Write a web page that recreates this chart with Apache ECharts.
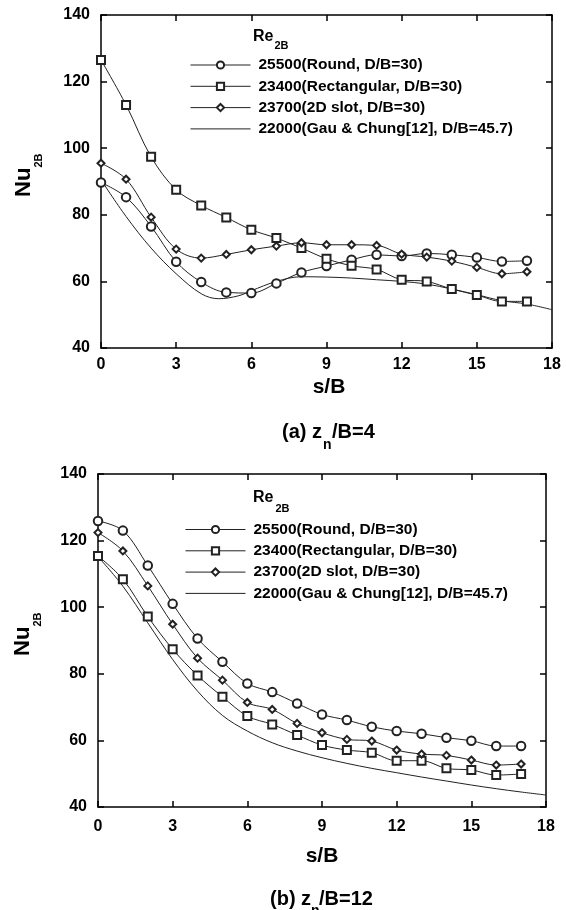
<!DOCTYPE html>
<html><head><meta charset="utf-8">
<script src="https://cdn.jsdelivr.net/npm/echarts@6/dist/echarts.min.js"></script>
<style>html,body{margin:0;padding:0;background:#fff}#c{width:566px;height:910px}</style>
</head><body><div id="c"></div>
<script>
// ---------- data ----------
const sB = [0,1,2,3,4,5,6,7,8,9,10,11,12,13,14,15,16,17];
const seriesNames = ['25500(Round, D/B=30)', '23400(Rectangular, D/B=30)', '23700(2D slot, D/B=30)', '22000(Gau & Chung[12], D/B=45.7)'];

// (a) zn/B = 4
const roundA = [89.7,85.3,76.5,65.9,59.8,56.7,56.5,59.4,62.7,64.6,66.5,68.0,67.6,68.4,68.0,67.2,66.0,66.2];
const rectA  = [126.5,113.0,97.4,87.5,82.8,79.2,75.5,73.0,70.0,66.8,64.7,63.6,60.5,60.0,57.7,55.9,54.0,54.0];
const slotA  = [95.5,90.7,79.3,69.7,67.0,68.1,69.5,70.6,71.6,71.0,71.0,70.8,68.2,67.3,66.1,64.2,62.3,62.9];
const gauAX  = [0,1,2,3,4,4.7,5.5,6,7,8,9,10,11,12,13,14,15,16,17,18];
const gauAY  = [90.5,79.5,70.0,62.3,56.3,54.8,55.7,57.2,60.0,61.4,61.3,61.0,60.5,60.0,59.2,57.7,56.0,54.2,53.2,51.5];

// (b) zn/B = 12
const roundB = [125.9,123.0,112.5,101.0,90.6,83.6,77.1,74.5,71.1,67.8,66.1,64.1,62.8,62.0,60.8,59.9,58.3,58.3];
const rectB  = [115.4,108.4,97.2,87.4,79.5,73.1,67.3,64.8,61.6,58.6,57.1,56.3,53.9,53.9,51.6,51.1,49.6,49.9];
const slotB  = [122.4,116.9,106.4,94.9,84.7,78.1,71.4,69.3,65.1,62.3,60.3,59.8,57.1,55.9,55.5,54.1,52.6,52.9];
const gauBX  = [0,1,2,3,4,5,6,7,8,9,10,11,12,13,14,15,16,17,18];
const gauBY  = [115.2,106.3,95.3,84.3,74.8,67.5,62.8,59.3,56.8,54.8,53.1,51.6,50.3,49.0,47.8,46.6,45.5,44.5,43.6];

const xMin = 0, xMax = 18, xStep = 3;
const yMin = 40, yMax = 140, yStep = 20;

// ---------- chart ----------
const FONT = '"Liberation Sans", Arial, sans-serif';
const INK = '#222';
const pairs = (xs, ys) => xs.map((x, i) => [x, ys[i]]);

function xAx(gi, pos, showLabel, margin) {
  return {
    type: 'value', gridIndex: gi, position: pos, min: xMin, max: xMax, interval: xStep,
    axisLine: { show: true, onZero: false, lineStyle: { color: '#000', width: 1.5 } },
    axisTick: { show: true, inside: true, length: 6, lineStyle: { color: '#000', width: 1.5 } },
    axisLabel: { show: showLabel, margin: margin, color: '#000', fontSize: 16, fontWeight: 'bold', fontFamily: FONT },
    splitLine: { show: false }
  };
}
function yAx(gi, pos, showLabel) {
  return {
    type: 'value', gridIndex: gi, position: pos, min: yMin, max: yMax, interval: yStep,
    axisLine: { show: true, onZero: false, lineStyle: { color: '#000', width: 1.5 } },
    axisTick: { show: true, inside: true, length: 6, lineStyle: { color: '#000', width: 1.5 } },
    axisLabel: { show: showLabel, margin: 11, color: '#000', fontSize: 16, fontWeight: 'bold', fontFamily: FONT },
    splitLine: { show: false }
  };
}
function mk(name, xi, yi, data, symbol, size) {
  return {
    name: name, type: 'line', xAxisIndex: xi, yAxisIndex: yi, data: data,
    smooth: 0.35, symbol: symbol, symbolSize: size, showSymbol: symbol !== 'none',
    lineStyle: { color: INK, width: 1 },
    itemStyle: { color: INK, borderColor: INK, borderWidth: 1 },
    z: 3
  };
}
const legendData = seriesNames.map((n, i) => i === 3
  ? { name: n, itemStyle: { color: 'rgba(0,0,0,0)', borderColor: 'rgba(0,0,0,0)', opacity: 0 } }
  : { name: n });
const legendBase = {
  orient: 'vertical', itemWidth: 60, itemHeight: 9, itemGap: 5.3, selectedMode: false,
  data: legendData,
  lineStyle: { width: 1 },
  textStyle: { color: '#000', fontSize: 15.5, fontWeight: 'bold', fontFamily: FONT, lineHeight: 16, padding: [0, 0, 0, 3] }
};
function txt(text, x, y, size, align) {
  return { type: 'text', x: x, y: y, style: { text: text, fill: '#000', fontSize: size, fontWeight: 'bold', fontFamily: FONT, align: align || 'left', verticalAlign: 'middle' } };
}
function nuLabel(x, y) {
  return { type: 'group', x: x, y: y, rotation: Math.PI / 2, children: [
    txt('Nu', 0, -7.8, 22), txt('2B', 29.5, 7, 11)
  ] };
}

const option = {
  animation: false,
  backgroundColor: '#fff',
  grid: [
    { left: 101, top: 15, width: 451, height: 333 },
    { left: 98, top: 474, width: 448, height: 333 }
  ],
  xAxis: [ xAx(0, 'bottom', true, 9), xAx(0, 'top', false, 0), xAx(1, 'bottom', true, 12), xAx(1, 'top', false, 0) ],
  yAxis: [ yAx(0, 'left', true), yAx(0, 'right', false), yAx(1, 'left', true), yAx(1, 'right', false) ],
  legend: [
    Object.assign({}, legendBase, { left: 185, top: 52 }),
    Object.assign({}, legendBase, { left: 180, top: 516.5 })
  ],
  series: [
    mk(seriesNames[0], 0, 0, pairs(sB, roundA), 'emptyCircle', 8.5),
    mk(seriesNames[1], 0, 0, pairs(sB, rectA), 'emptyRect', 8),
    mk(seriesNames[2], 0, 0, pairs(sB, slotA), 'emptyDiamond', 7),
    mk(seriesNames[3], 0, 0, pairs(gauAX, gauAY), 'none', 0),
    mk(seriesNames[0], 2, 2, pairs(sB, roundB), 'emptyCircle', 8.5),
    mk(seriesNames[1], 2, 2, pairs(sB, rectB), 'emptyRect', 8),
    mk(seriesNames[2], 2, 2, pairs(sB, slotB), 'emptyDiamond', 7),
    mk(seriesNames[3], 2, 2, pairs(gauBX, gauBY), 'none', 0)
  ],
  graphic: [
    txt('Re', 253, 36.3, 16), txt('2B', 274.5, 45.5, 11),
    nuLabel(32, 197),
    txt('s/B', 329, 387, 21, 'center'),
    txt('(a) z', 282, 432.8, 20), txt('n', 323, 445, 14), txt('/B=4', 332, 432.8, 20),

    txt('Re', 253, 498, 16), txt('2B', 275.5, 508.5, 11),
    nuLabel(31, 656),
    txt('s/B', 322, 856, 21, 'center'),
    txt('(b) z', 270, 899, 20), txt('n', 311, 911, 14), txt('/B=12', 319, 899, 20)
  ]
};
const chart = echarts.init(document.getElementById('c'), null, { renderer: 'canvas' });
chart.setOption(option);
</script>
</body></html>
